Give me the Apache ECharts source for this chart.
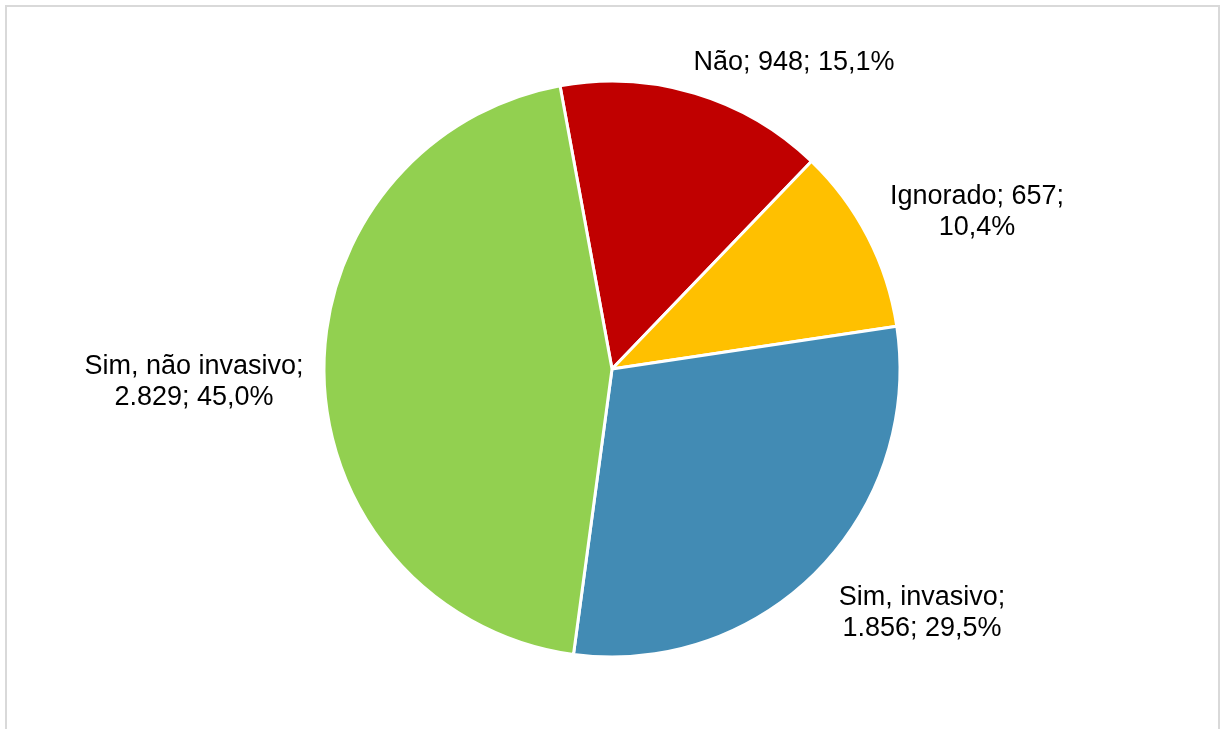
<!DOCTYPE html>
<html>
<head>
<meta charset="utf-8">
<style>
  html, body { margin: 0; padding: 0; background: #ffffff; }
  #chart { width: 1221px; height: 729px; }
</style>
<script src="https://cdn.jsdelivr.net/npm/echarts@6/dist/echarts.min.js"></script>
</head>
<body>
<div id="chart"></div>
<script>
// Categories and counts, clockwise from the top of the pie
const categories = ['Não', 'Ignorado', 'Sim, invasivo', 'Sim, não invasivo'];
const counts = [948, 657, 1856, 2829];
const colors = ['#C00000', '#FFC000', '#428BB4', '#92D050'];
// Where each label wraps: 'none', 'afterName' or 'beforePct'
const labelWrap = ['none', 'beforePct', 'afterName', 'afterName'];
// Label anchor points (centre of each text block)
const labelPos = [[794, 63], [977, 212], [922, 613], [194, 382]];

const total = counts.reduce((a, b) => a + b, 0);
const fmtInt = v => v.toString().replace(/\B(?=(\d{3})+(?!\d))/g, '.');
const fmtPct = v => (v / total * 100).toFixed(1).replace('.', ',') + '%';

const chart = echarts.init(document.getElementById('chart'));
chart.setOption({
  backgroundColor: '#ffffff',
  animation: false,
  graphic: [{
    type: 'rect',
    shape: { x: 6, y: 6, width: 1213, height: 800 },
    style: { fill: 'none', stroke: '#d9d9d9', lineWidth: 2 },
    silent: true
  }],
  series: [{
    type: 'pie',
    center: [612, 369],
    radius: 288,
    startAngle: 100.4,
    clockwise: true,
    data: categories.map((n, i) => ({ name: n, value: counts[i], itemStyle: { color: colors[i] } })),
    itemStyle: { borderColor: '#ffffff', borderWidth: 3 },
    label: {
      show: true,
      position: 'outside',
      color: '#000000',
      fontFamily: 'Liberation Sans, Arial, sans-serif',
      fontSize: 27,
      lineHeight: 31,
      align: 'center',
      formatter: p => {
        const i = p.dataIndex;
        const name = p.name, val = fmtInt(p.value), pct = fmtPct(p.value);
        if (labelWrap[i] === 'afterName') return name + ';\n' + val + '; ' + pct;
        if (labelWrap[i] === 'beforePct') return name + '; ' + val + ';\n' + pct;
        return name + '; ' + val + '; ' + pct;
      }
    },
    labelLine: { show: false },
    labelLayout: p => ({
      x: labelPos[p.dataIndex][0],
      y: labelPos[p.dataIndex][1],
      align: 'center',
      verticalAlign: 'middle'
    }),
    emphasis: { disabled: true }
  }]
});
</script>
</body>
</html>
